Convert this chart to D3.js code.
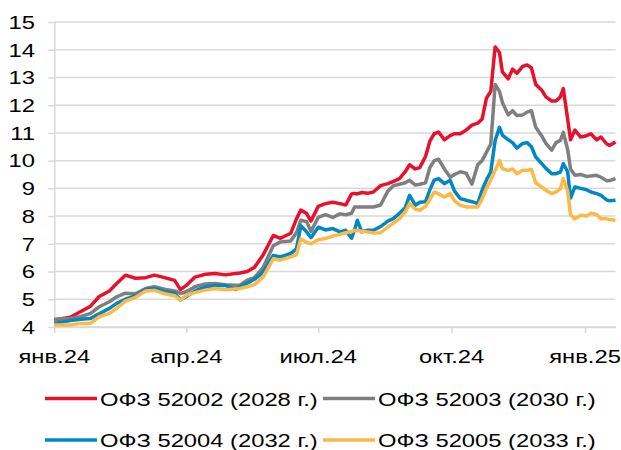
<!DOCTYPE html>
<html><head><meta charset="utf-8">
<script src="https://cdn.jsdelivr.net/npm/d3@7"></script>
<style>
html,body{margin:0;padding:0;background:#fff;}
svg{display:block;font-family:"Liberation Sans",Arial,sans-serif;}
</style></head>
<body>
<svg id="chart" width="621" height="450"></svg>
<script>
const dates = ["2024-01-01","2024-01-12","2024-01-19","2024-01-26","2024-02-01","2024-02-08","2024-02-13","2024-02-19","2024-02-26","2024-03-04",
"2024-03-10","2024-03-17","2024-03-24","2024-03-28","2024-04-01","2024-04-07","2024-04-14","2024-04-21","2024-04-28","2024-05-05",
"2024-05-08","2024-05-13","2024-05-18","2024-05-24","2024-05-31","2024-06-05","2024-06-12","2024-06-16","2024-06-19","2024-06-23",
"2024-06-26","2024-07-01","2024-07-06","2024-07-11","2024-07-16","2024-07-20","2024-07-24","2024-07-26","2024-07-28","2024-07-31",
"2024-08-04","2024-08-08","2024-08-13","2024-08-18","2024-08-22","2024-08-26","2024-08-30","2024-09-02","2024-09-06","2024-09-09",
"2024-09-13","2024-09-16","2024-09-19","2024-09-22","2024-09-26","2024-09-30","2024-10-03","2024-10-07","2024-10-11","2024-10-15",
"2024-10-19","2024-10-22","2024-10-25","2024-10-28","2024-10-31","2024-11-03","2024-11-05","2024-11-09","2024-11-12","2024-11-15",
"2024-11-19","2024-11-22","2024-11-25","2024-11-28","2024-12-02","2024-12-05","2024-12-09","2024-12-12","2024-12-15","2024-12-17",
"2024-12-20","2024-12-22","2024-12-25","2024-12-29","2025-01-02","2025-01-05","2025-01-09","2025-01-12","2025-01-16","2025-01-18",
"2025-01-22"];

const ofz52002 = [4.25,4.35,4.55,4.75,5.1,5.3,5.57,5.87,5.76,5.78,
5.87,5.78,5.68,5.35,5.5,5.8,5.9,5.93,5.88,5.93,
5.95,6.0,6.15,6.6,7.3,7.2,7.38,7.9,8.22,8.09,
7.82,8.35,8.45,8.5,8.45,8.4,8.8,8.82,8.8,8.85,
8.82,8.87,9.1,9.17,9.25,9.35,9.6,9.85,9.7,9.75,
10.15,10.7,10.97,11.03,10.75,10.9,10.97,10.97,11.1,11.28,
11.35,11.5,12.25,12.5,14.1,13.9,13.2,12.95,13.3,13.15,
13.4,13.45,13.35,12.75,12.55,12.3,12.15,12.15,12.3,12.6,
11.5,10.75,11.1,10.85,10.9,10.97,10.75,10.85,10.6,10.55,
10.67];

const ofz52003 = [4.28,4.31,4.37,4.49,4.73,4.91,5.09,5.22,5.2,5.39,
5.45,5.36,5.3,5.21,5.27,5.45,5.55,5.57,5.52,5.51,
5.51,5.69,5.78,6.15,6.93,7.07,7.1,7.4,7.85,7.8,
7.45,7.95,8.05,7.95,8.08,8.05,8.1,8.33,8.33,8.33,
8.33,8.33,8.4,8.9,9.1,9.15,9.2,9.29,9.12,9.15,
9.2,9.75,10.0,10.05,9.7,9.4,9.5,9.6,9.55,9.15,
9.85,10.0,10.3,10.6,12.75,12.5,12.1,11.65,11.8,11.63,
11.65,11.75,11.8,11.2,10.9,10.62,10.38,10.65,10.73,11.02,
10.4,9.7,9.47,9.5,9.43,9.45,9.47,9.4,9.27,9.28,
9.35];

const ofz52004 = [4.13,4.23,4.28,4.31,4.48,4.67,4.85,5.0,5.13,5.36,
5.39,5.28,5.22,4.97,5.1,5.3,5.44,5.5,5.5,5.35,
5.45,5.58,5.72,5.98,6.58,6.53,6.65,6.82,7.65,7.43,
7.22,7.6,7.5,7.55,7.43,7.49,7.2,7.49,7.85,7.43,
7.49,7.49,7.62,7.82,7.92,8.1,8.3,8.75,8.39,8.5,
8.52,8.95,9.3,9.35,9.17,9.29,8.9,8.63,8.57,8.52,
8.45,8.93,9.3,9.6,10.73,11.2,10.92,10.75,10.65,10.45,
10.62,10.65,10.5,10.13,9.9,9.72,9.53,9.53,9.59,9.89,
9.6,8.65,9.05,9.0,8.95,8.87,8.81,8.75,8.58,8.55,
8.57];

const ofz52005 = [4.07,4.07,4.13,4.13,4.37,4.49,4.67,4.93,5.07,5.3,
5.32,5.2,5.13,4.97,5.14,5.24,5.33,5.39,5.34,5.37,
5.39,5.45,5.53,5.8,6.46,6.41,6.53,6.6,7.18,7.05,
7.0,7.15,7.19,7.28,7.34,7.4,7.44,7.48,7.48,7.45,
7.43,7.39,7.4,7.6,7.75,7.9,8.15,8.45,8.25,8.21,
8.35,8.6,8.87,8.8,8.69,8.81,8.55,8.39,8.33,8.33,
8.33,8.63,9.0,9.3,9.65,10.0,9.71,9.65,9.7,9.53,
9.65,9.65,9.68,9.2,9.05,8.93,8.81,8.87,8.99,9.35,
8.9,8.05,7.9,8.03,8.0,8.1,8.06,7.9,7.9,7.88,
7.85];

const seriesNames = ["ОФЗ 52002 (2028 г.)","ОФЗ 52003 (2030 г.)","ОФЗ 52004 (2032 г.)","ОФЗ 52005 (2033 г.)"];
const seriesColors = ["#e8112d","#7f7f7f","#0088c4","#fdb945"];
const yTicks = [4,5,6,7,8,9,10,11,12,13,14,15];
const xTickDates = ["2024-01-01","2024-04-01","2024-07-01","2024-10-01","2025-01-01"];
const xTickLabels = ["янв.24","апр.24","июл.24","окт.24","янв.25"];
const xDomain = ["2024-01-01","2025-01-22"];

const parse = d3.utcParse("%Y-%m-%d");
const svg = d3.select("#chart");
const SX = 1.25, FS = 19;

const x = d3.scaleUtc().domain(xDomain.map(parse)).range([54.3, 615.5]);
const y = d3.scaleLinear().domain([4, 15]).range([327, 22]);

// gridlines
svg.append("g").selectAll("line").data(yTicks).join("line")
  .attr("x1", 54.3).attr("x2", 615.5)
  .attr("y1", d => y(d)).attr("y2", d => y(d))
  .attr("stroke", "#d9d9d9").attr("stroke-width", 1.5);

// y axis
const yAxis = svg.append("g").attr("transform", "translate(54.3,0)")
  .call(d3.axisLeft(y).tickValues(yTicks).tickSize(6).tickSizeOuter(0).tickFormat(d3.format("d")));
yAxis.select(".domain").attr("stroke", "#d9d9d9").attr("stroke-width", 1.5);
yAxis.selectAll(".tick line").attr("stroke", "#d9d9d9").attr("stroke-width", 1.5);
yAxis.selectAll(".tick text").remove();
svg.append("g").selectAll("text").data(yTicks).join("text")
  .attr("transform", d => `translate(35,${y(d)}) scale(${SX},1)`)
  .attr("dy", "0.36em").attr("text-anchor", "end")
  .attr("font-size", FS).attr("fill", "#000").text(d => d);

// x axis ticks
const xAxis = svg.append("g").attr("transform", "translate(0,327)")
  .call(d3.axisBottom(x).tickValues(xTickDates.map(parse)).tickSize(6).tickSizeOuter(0).tickFormat(""));
xAxis.select(".domain").attr("stroke", "#d9d9d9").attr("stroke-width", 1.5);
xAxis.selectAll(".tick line").attr("stroke", "#d9d9d9").attr("stroke-width", 1.5);
svg.append("g").selectAll("text").data(xTickDates).join("text")
  .attr("transform", d => `translate(${x(parse(d))},363) scale(${SX},1)`)
  .attr("text-anchor", "middle").attr("font-size", FS).attr("fill", "#000")
  .text((d, i) => xTickLabels[i]);

// lines
const allSeries = [ofz52002, ofz52003, ofz52004, ofz52005];
const line = d3.line().x((d, i) => x(parse(dates[i]))).y(d => y(d));
allSeries.forEach((vals, k) => {
  svg.append("path").datum(vals).attr("d", line)
    .attr("fill", "none").attr("stroke", seriesColors[k]).attr("stroke-width", 3.5)
    .attr("stroke-linejoin", "round").attr("stroke-linecap", "butt");
});

// legend
const legPos = [[45, 398.5], [323, 398.5], [45, 440], [323, 440]];
seriesNames.forEach((name, k) => {
  const [lx, ly] = legPos[k];
  const g = svg.append("g");
  g.append("line").attr("x1", lx).attr("x2", lx + 52).attr("y1", ly).attr("y2", ly)
    .attr("stroke", seriesColors[k]).attr("stroke-width", 3.5);
  g.append("text").attr("transform", `translate(${lx + 55},${ly + 7}) scale(${SX},1)`)
    .attr("font-size", FS).attr("fill", "#000").text(name);
});
</script>
</body></html>
